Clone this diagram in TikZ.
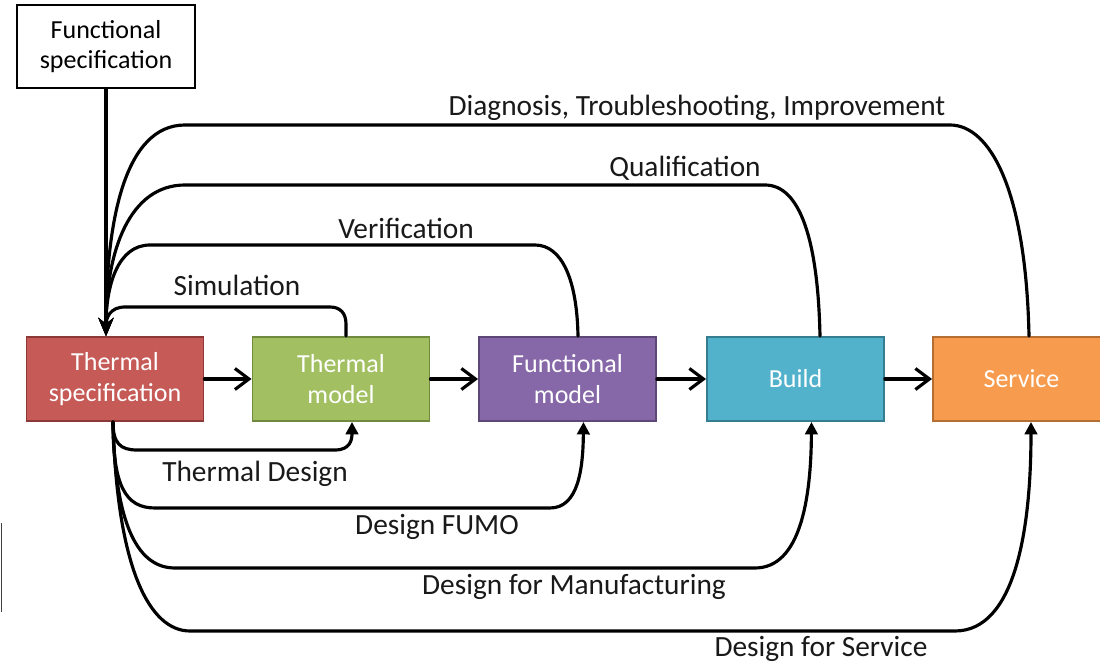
\documentclass[tikz,border=0pt]{standalone}
\usepackage{fontspec}
\setmainfont{Carlito}
\usetikzlibrary{arrows.meta,calc}
\definecolor{cred}{HTML}{C55A57}
\definecolor{credb}{HTML}{8C3836}
\definecolor{cgreen}{HTML}{A2C062}
\definecolor{cgreenb}{HTML}{71893F}
\definecolor{cpurple}{HTML}{8668A8}
\definecolor{cpurpleb}{HTML}{5C4776}
\definecolor{cblue}{HTML}{52B2CB}
\definecolor{cblueb}{HTML}{357D91}
\definecolor{corange}{HTML}{F79C4E}
\definecolor{corangeb}{HTML}{B66D31}
\begin{document}
\begin{tikzpicture}[x=0.02cm,y=-0.02cm,
  box/.style={draw, line width=1.1pt, minimum width=3.54cm, minimum height=1.68cm,
    inner sep=0pt, align=center, text=white, font=\fontsize{14.8}{17.6}\selectfont},
  lbl/.style={font=\fontsize{16.7}{20}\selectfont, inner sep=0pt, text=black!90},
  conn/.style={line width=1.8pt, line cap=round},
  toptip/.style={-{Stealth[length=3.6mm,width=3mm]}},
  bottip/.style={-{Triangle[length=2.5mm,width=2.5mm]}},
  flowtip/.style={-{Straight Barb[length=2.8mm,width=4.2mm,line width=1.8pt]}}]
\clip (0,0) rectangle (1100,665);
\fill[white] (0,0) rectangle (1100,665);

% nodes
\node[draw, line width=1.3pt, minimum width=3.56cm, minimum height=1.66cm, inner sep=0pt,
  align=center, font=\fontsize{14.8}{17}\selectfont, fill=white] (fs) at (106,46.5)
  {Functional\\specification};
\node[box, fill=cred, draw=credb] (ts) at (115,379) {Thermal\\specification};
\node[box, fill=cgreen, draw=cgreenb] (tm) at (341,379) {Thermal\\model};
\node[box, fill=cpurple, draw=cpurpleb] (fm) at (567.5,379) {Functional\\model};
\node[box, fill=cblue, draw=cblueb] (bu) at (795.5,379) {Build};
\node[box, fill=corange, draw=corangeb] (sv) at (1021.5,379) {Service};

% main flow
\draw[conn,flowtip] (ts.east) -- (tm.west);
\draw[conn,flowtip] (tm.east) -- (fm.west);
\draw[conn,flowtip] (fm.east) -- (bu.west);
\draw[conn,flowtip] (bu.east) -- (sv.west);

% functional specification input
\draw[conn,toptip] (fs.south) -- (fs.south |- ts.north);

% feedback loops (top)
\draw[conn,toptip] ($(sv.north)+(7.5,0)$) .. controls (1026,190) and (990,125) .. (950,125)
  -- (185,125) .. controls (125,125) and (106,220) .. ($(ts.north)+(-9,0)$);
\draw[conn,toptip] ($(bu.north)+(24.5,0)$) .. controls (818,240) and (800,185) .. (765,185)
  -- (185,185) .. controls (130,185) and (106,250) .. ($(ts.north)+(-9,0)$);
\draw[conn,toptip] ($(fm.north)+(10.5,0)$) .. controls (577,280) and (562,245) .. (535,245)
  -- (150,245) .. controls (118,245) and (106,285) .. ($(ts.north)+(-9,0)$);
\draw[conn,toptip] ($(tm.north)+(5,0)$) -- (346,324) .. controls (346,313) and (340,307) .. (330,307)
  -- (125,307) .. controls (110,307) and (106,318) .. ($(ts.north)+(-9,0)$);

% design loops (bottom)
\draw[conn,bottip] ($(ts.south)+(-2,0)$) .. controls (113,443) and (120,450) .. (137,450)
  -- (335,450) .. controls (350,450) and (352,440) .. ($(tm.south)+(11,0)$);
\draw[conn,bottip] ($(ts.south)+(-2,0)$) .. controls (113,485) and (125,508) .. (155,508)
  -- (550,508) .. controls (578,508) and (583,470) .. ($(fm.south)+(16,0)$);
\draw[conn,bottip] ($(ts.south)+(-2,0)$) .. controls (115,530) and (140,568) .. (175,568)
  -- (755,568) .. controls (800,568) and (811,500) .. ($(bu.south)+(16,0)$);
\draw[conn,bottip] ($(ts.south)+(-2,0)$) .. controls (117,570) and (150,631) .. (190,631)
  -- (955,631) .. controls (1015,631) and (1031,530) .. ($(sv.south)+(9.5,0)$);

% labels
\node[lbl] (l1) at (697,108) {Diagnosis, Troubleshooting, Improvement};
\node[lbl] (l2) at (685,168) {Qualification};
\node[lbl] (l3) at (406,228) {Verification};
\node[lbl] (l4) at (237,285) {Simulation};
\node[lbl] (l5) at (255,474) {Thermal Design};
\node[lbl] (l6) at (437,527) {Design FUMO};
\node[lbl] (l7) at (574,587) {Design for Manufacturing};
\node[lbl] (l8) at (821,649) {Design for Service};

% cropped edge mark
\draw[line width=0.8pt, black!75] (1.5,523) -- (1.5,612);
\end{tikzpicture}
\end{document}
